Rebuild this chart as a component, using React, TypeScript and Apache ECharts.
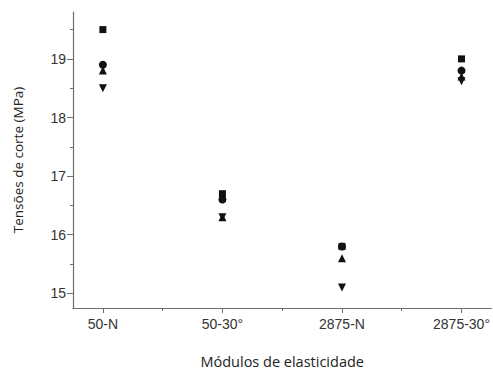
import React, { useEffect, useRef } from "react";
import * as echarts from "echarts";

const categories = ["50-N", "50-30°", "2875-N", "2875-30°"];
const squareValues = [19.5, 16.7, 15.8, 19.0];
const circleValues = [18.9, 16.6, 15.8, 18.8];
const triUpValues = [18.8, 16.3, 15.6, 18.7];
const triDownValues = [18.5, 16.3, 15.1, 18.62];
const yTicks = [15, 16, 17, 18, 19];
const yMinorTicks = [15.5, 16.5, 17.5, 18.5, 19.5];

const toPoints = (vals: number[]) => vals.map((v, i) => [i + 1, v]);

export default function App() {
  const ref = useRef<HTMLDivElement>(null);
  useEffect(() => {
    if (!ref.current) return;
    const chart = echarts.init(ref.current, null, { renderer: "svg" });
    const axisColor = "#6e6e6e";
    const labelStyle = { color: "#333", fontFamily: "Liberation Sans", fontSize: 14 };
    const markStyle = { color: "#111", opacity: 1 };
    chart.setOption({
      animation: false,
      grid: { left: 73, top: 12, right: 0, bottom: 63 },
      xAxis: [
        {
          type: "value",
          min: 0.75,
          max: 4.25,
          name: "Módulos de elasticidade",
          nameLocation: "middle",
          nameGap: 46,
          nameTextStyle: { color: "#222", fontFamily: "Open Sans", fontSize: 14.5 },
          splitLine: { show: false },
          axisLine: { show: true, lineStyle: { color: axisColor, width: 1.2 } },
          axisTick: { show: true, length: 5, lineStyle: { color: axisColor }, customValues: [1, 2, 3, 4] },
          axisLabel: {
            ...labelStyle,
            margin: 9,
            customValues: [1, 2, 3, 4],
            formatter: (v: number) => categories[Math.round(v) - 1] ?? "",
          },
        },
        {
          type: "value",
          min: 0.75,
          max: 4.25,
          position: "bottom",
          splitLine: { show: false },
          axisLine: { show: false },
          axisTick: { show: true, length: 3, lineStyle: { color: axisColor }, customValues: [1.5, 2.5, 3.5] },
          axisLabel: { show: false },
        },
      ],
      yAxis: [
        {
          type: "value",
          min: 14.75,
          max: 19.8,
          name: "Tensões de corte (MPa)",
          nameLocation: "middle",
          nameGap: 48,
          nameTextStyle: { color: "#222", fontFamily: "Open Sans", fontSize: 13.5 },
          splitLine: { show: false },
          axisLine: { show: true, lineStyle: { color: axisColor, width: 1.2 } },
          axisTick: { show: true, length: 6, lineStyle: { color: axisColor }, customValues: yTicks },
          axisLabel: { ...labelStyle, margin: 7, customValues: yTicks },
        },
        {
          type: "value",
          min: 14.75,
          max: 19.8,
          position: "left",
          splitLine: { show: false },
          axisLine: { show: false },
          axisTick: { show: true, length: 3, lineStyle: { color: axisColor }, customValues: yMinorTicks },
          axisLabel: { show: false },
        },
      ],
      series: [
        { type: "scatter", symbol: "rect", symbolSize: 7, itemStyle: markStyle, data: toPoints(squareValues) },
        { type: "scatter", symbol: "circle", symbolSize: 8, itemStyle: markStyle, data: toPoints(circleValues) },
        { type: "scatter", symbol: "triangle", symbolSize: 8, itemStyle: markStyle, data: toPoints(triUpValues) },
        { type: "scatter", symbol: "triangle", symbolRotate: 180, symbolSize: 8, itemStyle: markStyle, data: toPoints(triDownValues) },
      ],
    });
    return () => chart.dispose();
  }, []);
  return <div ref={ref} style={{ position: "fixed", left: 0, top: 0, width: 493, height: 374, background: "#fff" }} />;
}
